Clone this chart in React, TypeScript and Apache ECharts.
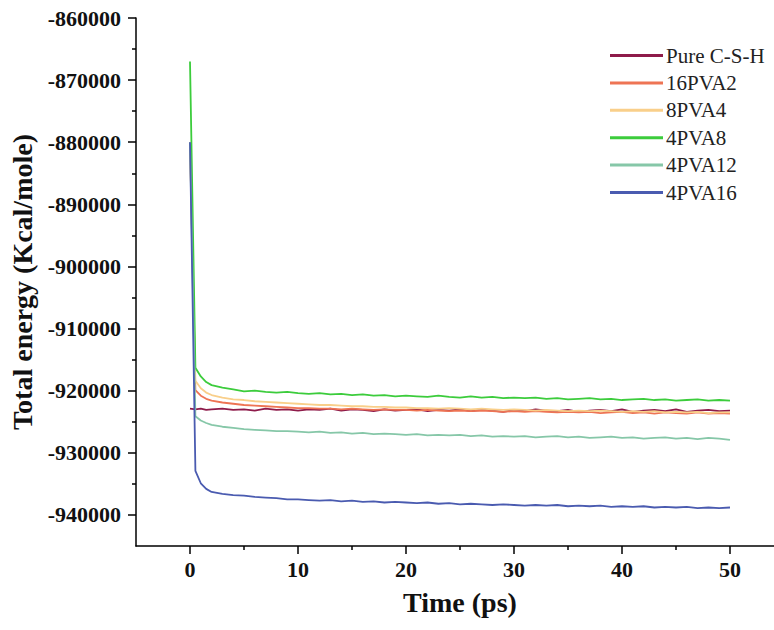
import React, { useEffect, useRef } from "react";
import * as echarts from "echarts";

const times = [0, 0.5, 1, 1.5, 2, 3, 4, 5, 6, 7, 8, 9, 10, 11, 12, 13, 14, 15, 16, 17, 18, 19, 20, 21, 22, 23, 24, 25, 26, 27, 28, 29, 30, 31, 32, 33, 34, 35, 36, 37, 38, 39, 40, 41, 42, 43, 44, 45, 46, 47, 48, 49, 50];

const pureCSH = [-922900, -923000, -922900, -923100, -923000, -922900, -923100, -923000, -923200, -922900, -923100, -923000, -923200, -923000, -923100, -922900, -923200, -923000, -923100, -923300, -923000, -923200, -923100, -923000, -923300, -923100, -923200, -923000, -923300, -923100, -923200, -923400, -923100, -923300, -923000, -923200, -923300, -923100, -923400, -923200, -923100, -923300, -923000, -923400, -923200, -923100, -923300, -923000, -923400, -923200, -923100, -923300, -923200];

const pva16_2 = [-880000, -919900, -920800, -921300, -921600, -921900, -922100, -922300, -922400, -922500, -922600, -922700, -922800, -922800, -922900, -922900, -923000, -922900, -923000, -923100, -923000, -923100, -923100, -923200, -923100, -923200, -923300, -923200, -923300, -923200, -923300, -923400, -923300, -923400, -923300, -923400, -923500, -923400, -923500, -923400, -923600, -923500, -923400, -923600, -923500, -923700, -923500, -923600, -923700, -923500, -923700, -923600, -923700];

const pva8_4 = [-880000, -918400, -919600, -920300, -920700, -921100, -921400, -921500, -921700, -921800, -921900, -922000, -922100, -922200, -922300, -922300, -922400, -922500, -922500, -922600, -922600, -922700, -922700, -922800, -922800, -922900, -922800, -922900, -923000, -922900, -923000, -923100, -923000, -923100, -923200, -923100, -923200, -923300, -923200, -923300, -923200, -923300, -923400, -923300, -923400, -923300, -923500, -923400, -923500, -923400, -923600, -923500, -923500];

const pva4_8 = [-867000, -916300, -917700, -918600, -919100, -919500, -919800, -920100, -920000, -920200, -920300, -920200, -920400, -920500, -920400, -920600, -920500, -920700, -920600, -920800, -920700, -920900, -920800, -920900, -921000, -920800, -921000, -921100, -920900, -921100, -921000, -921200, -921100, -921200, -921100, -921300, -921200, -921400, -921300, -921200, -921400, -921300, -921500, -921400, -921300, -921500, -921400, -921600, -921500, -921400, -921600, -921500, -921600];

const pva4_12 = [-880000, -924100, -924800, -925200, -925500, -925800, -926000, -926200, -926300, -926400, -926500, -926500, -926600, -926700, -926600, -926800, -926700, -926900, -926800, -927000, -926900, -927000, -927100, -927000, -927200, -927100, -927200, -927100, -927300, -927200, -927400, -927300, -927400, -927300, -927500, -927400, -927300, -927500, -927400, -927600, -927500, -927400, -927600, -927500, -927700, -927600, -927500, -927700, -927600, -927800, -927600, -927700, -927900];

const pva4_16 = [-880000, -932900, -934900, -935800, -936300, -936600, -936800, -936900, -937100, -937200, -937300, -937500, -937500, -937600, -937700, -937600, -937800, -937700, -937900, -937800, -938000, -937900, -938000, -938100, -938000, -938200, -938100, -938300, -938200, -938300, -938400, -938300, -938400, -938500, -938400, -938500, -938400, -938600, -938500, -938600, -938500, -938700, -938600, -938700, -938600, -938800, -938700, -938800, -938700, -938900, -938800, -938900, -938800];

const seriesNames = ["Pure C-S-H", "16PVA2", "8PVA4", "4PVA8", "4PVA12", "4PVA16"];
const seriesValues = [pureCSH, pva16_2, pva8_4, pva4_8, pva4_12, pva4_16];
const seriesColors = ["#8e1b4a", "#ee7454", "#f9cf8a", "#3ccc3c", "#86c7a8", "#4a5bb0"];

const xMajorTicks = [0, 10, 20, 30, 40, 50];
const xMinorTicks = [5, 15, 25, 35, 45];
const yMajorTicks = [-940000, -930000, -920000, -910000, -900000, -890000, -880000, -870000, -860000];
const yMinorTicks = [-935000, -925000, -915000, -905000, -895000, -885000, -875000, -865000];

const FONT = "'Liberation Serif', 'Times New Roman', serif";

export default function App() {
  const ref = useRef<HTMLDivElement>(null);
  useEffect(() => {
    if (!ref.current) return;
    const chart = echarts.init(ref.current, null, { renderer: "svg" });
    const axisLine = { show: true, onZero: false, lineStyle: { color: "#000", width: 1.5 } };
    chart.setOption({
      animation: false,
      backgroundColor: "#fff",
      grid: { left: 136, right: -10, top: 18, bottom: 84, outerBoundsMode: "none", containLabel: false },
      legend: {
        orient: "vertical",
        left: 605,
        top: 40,
        icon: "rect",
        itemWidth: 53,
        itemHeight: 3,
        itemGap: 6.4,
        textStyle: { fontFamily: FONT, fontSize: 21, color: "#222", padding: [0, 0, 0, -2] },
        data: seriesNames,
      },
      xAxis: [
        {
          type: "value",
          min: -5,
          max: 55,
          position: "bottom",
          name: "Time (ps)",
          nameLocation: "middle",
          nameGap: 42,
          nameTextStyle: { fontFamily: FONT, fontSize: 28, fontWeight: "bold", color: "#111" },
          axisLine,
          splitLine: { show: false },
          axisTick: { show: true, length: 8, customValues: xMajorTicks, lineStyle: { color: "#000", width: 1.5 } },
          axisLabel: { customValues: xMajorTicks, margin: 12, fontFamily: FONT, fontSize: 22, fontWeight: "bold", color: "#111" },
        },
        {
          type: "value",
          min: -5,
          max: 55,
          position: "bottom",
          axisLine: { show: false, onZero: false },
          splitLine: { show: false },
          axisTick: { show: true, length: 4, customValues: xMinorTicks, lineStyle: { color: "#000", width: 1.5 } },
          axisLabel: { show: false },
        },
      ],
      yAxis: [
        {
          type: "value",
          min: -945000,
          max: -860000,
          position: "left",
          name: "Total energy (Kcal/mole)",
          nameLocation: "middle",
          nameGap: 98,
          nameTextStyle: { fontFamily: FONT, fontSize: 28, fontWeight: "bold", color: "#111" },
          axisLine,
          splitLine: { show: false },
          axisTick: { show: true, length: 8, customValues: yMajorTicks, lineStyle: { color: "#000", width: 1.5 } },
          axisLabel: {
            customValues: yMajorTicks,
            margin: 15,
            fontFamily: FONT,
            fontSize: 22,
            fontWeight: "bold",
            color: "#111",
            formatter: (v: number) => String(v),
          },
        },
        {
          type: "value",
          min: -945000,
          max: -860000,
          position: "left",
          axisLine: { show: false, onZero: false },
          splitLine: { show: false },
          axisTick: { show: true, length: 4, customValues: yMinorTicks, lineStyle: { color: "#000", width: 1.5 } },
          axisLabel: { show: false },
        },
      ],
      series: seriesNames.map((name, k) => ({
        name,
        type: "line",
        xAxisIndex: 0,
        yAxisIndex: 0,
        symbol: "none",
        smooth: false,
        color: seriesColors[k],
        lineStyle: { width: 1.8, color: seriesColors[k] },
        data: times.map((t, i) => [t, seriesValues[k][i]]),
      })),
    });
    return () => chart.dispose();
  }, []);
  return <div ref={ref} style={{ position: "absolute", left: 0, top: 0, width: 774, height: 630 }} />;
}
